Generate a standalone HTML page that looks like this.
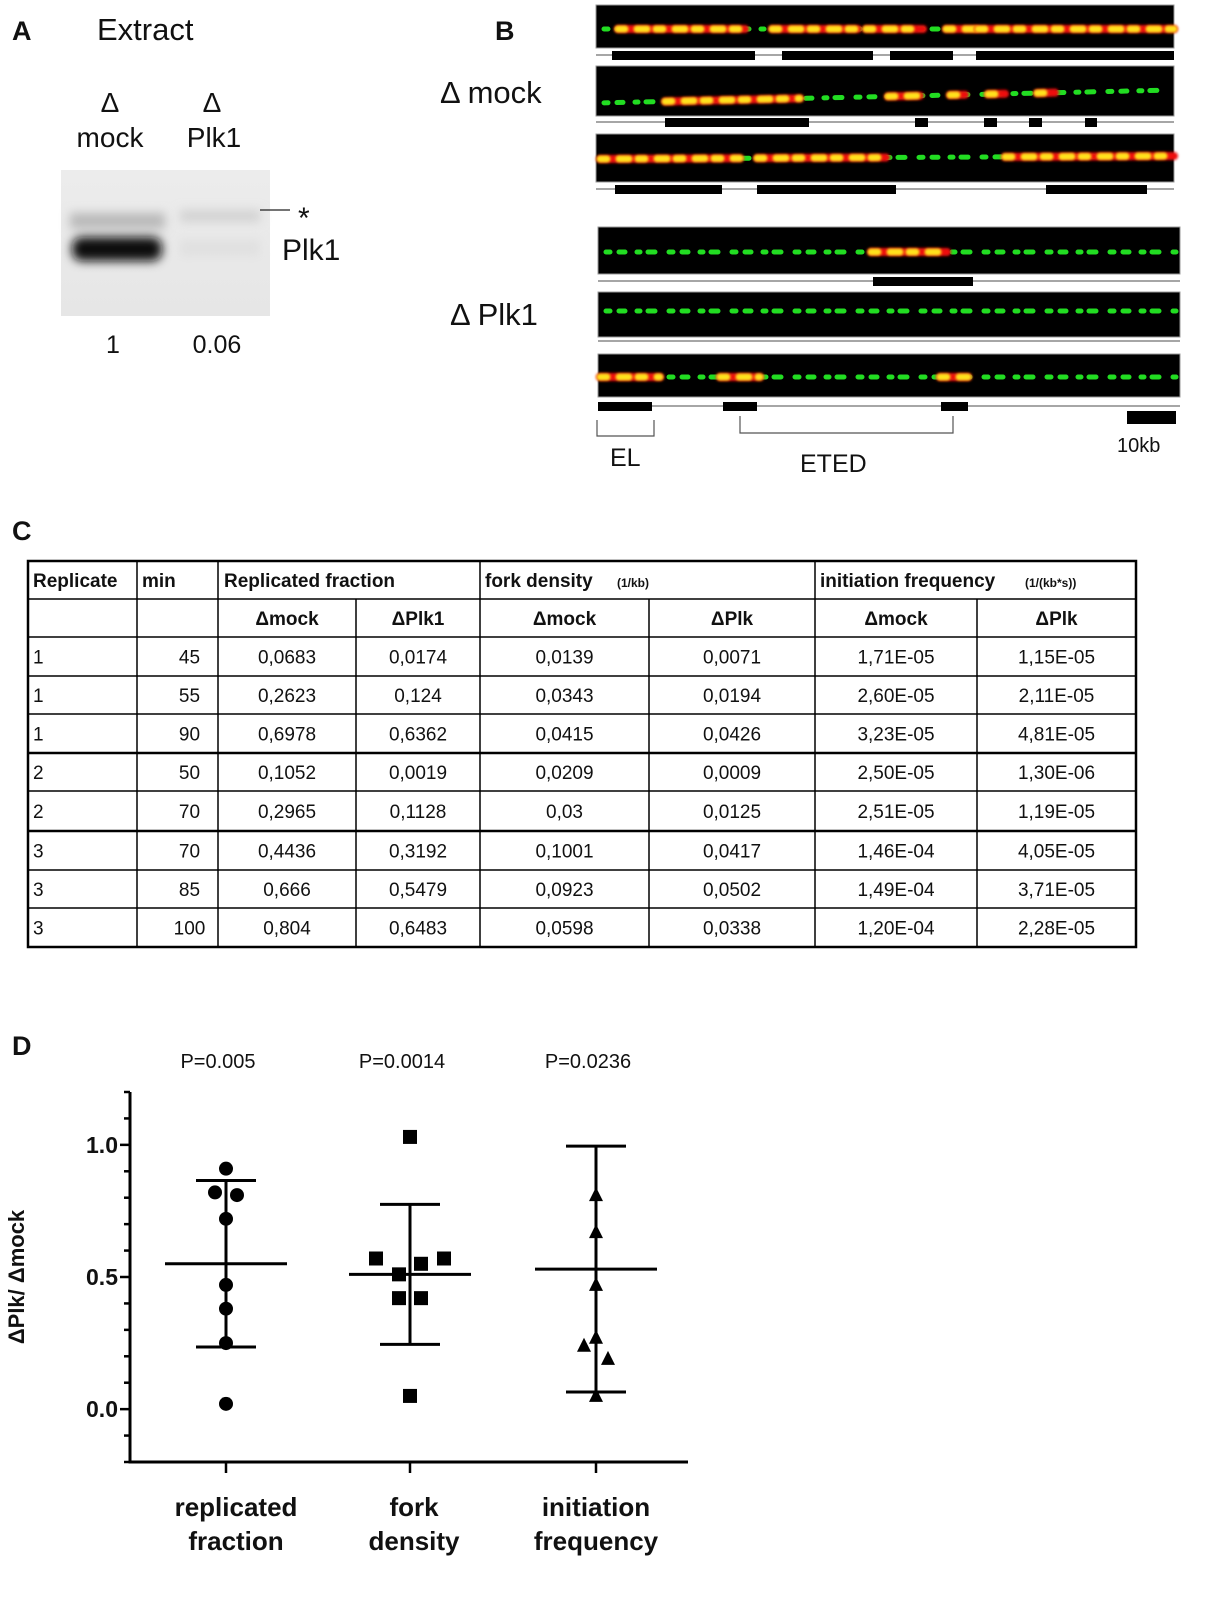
<!DOCTYPE html>
<html><head><meta charset="utf-8"><style>
html,body{margin:0;padding:0;background:#fff}
svg{display:block}
text{font-family:"Liberation Sans",sans-serif;fill:#111}
</style></head><body>
<svg id="fig" width="1210" height="1601" viewBox="0 0 1210 1601" xmlns="http://www.w3.org/2000/svg">
<defs>
<filter id="blur1" filterUnits="userSpaceOnUse" x="0" y="0" width="1210" height="1601"><feGaussianBlur stdDeviation="1.4"/></filter>
<filter id="blur5" filterUnits="userSpaceOnUse" x="0" y="0" width="1210" height="1601"><feGaussianBlur stdDeviation="5"/></filter>
<linearGradient id="blot" x1="0" y1="0" x2="0" y2="1"><stop offset="0" stop-color="#ececec"/><stop offset="1" stop-color="#e6e6e6"/></linearGradient>
</defs>

<!-- Panel A -->
<g>
<text x="12" y="40" font-size="27" font-weight="bold">A</text>
<text x="97" y="40" font-size="31">Extract</text>
<text x="110" y="112" font-size="28" text-anchor="middle">Δ</text>
<text x="110" y="147" font-size="28" text-anchor="middle">mock</text>
<text x="212" y="112" font-size="28" text-anchor="middle">Δ</text>
<text x="214" y="147" font-size="28" text-anchor="middle">Plk1</text>
<rect x="61" y="170" width="209" height="146" fill="url(#blot)"/>
<rect x="70" y="213" width="95" height="16" fill="#b9b9b9" filter="url(#blur5)"/>
<rect x="180" y="210" width="80" height="12" fill="#d2d2d2" filter="url(#blur5)"/>
<rect x="72" y="237" width="90" height="24" rx="10" fill="#0c0c0c" filter="url(#blur5)"/>
<rect x="180" y="240" width="80" height="16" fill="#e0e0e0" filter="url(#blur5)"/>
<line x1="260" y1="210" x2="290" y2="210" stroke="#222" stroke-width="1.2"/>
<text x="298" y="228" font-size="30">*</text>
<text x="282" y="260" font-size="30">Plk1</text>
<text x="113" y="353" font-size="25" text-anchor="middle">1</text>
<text x="217" y="353" font-size="25" text-anchor="middle">0.06</text>
</g>

<!-- Panel B -->
<g id="panelB">
<text x="495" y="40" font-size="27" font-weight="bold">B</text>
<text x="440" y="103" font-size="31">Δ mock</text>
<text x="450" y="325" font-size="31">Δ Plk1</text>
<g id="fibers"></g>
<rect x="1127" y="411" width="49" height="13" fill="#000"/>
<text x="1117" y="452" font-size="20">10kb</text>
<path d="M597 420 V436 H654 V420" fill="none" stroke="#555" stroke-width="1.2"/>
<text x="610" y="466" font-size="25">EL</text>
<path d="M740 416 V433 H953 V416" fill="none" stroke="#555" stroke-width="1.2"/>
<text x="800" y="472" font-size="25">ETED</text>
</g>

<!-- Panel C -->
<g id="panelC">
<text x="12" y="540" font-size="27" font-weight="bold">C</text>
<g id="table"></g>
</g>

<!-- Panel D -->
<g id="panelD">
<text x="12" y="1055" font-size="27" font-weight="bold">D</text>
<g id="chart"></g>
</g>
</svg>
<script>
const NS="http://www.w3.org/2000/svg";
function mk(tag,attrs,parent,txt){const e=document.createElementNS(NS,tag);for(const k in attrs)e.setAttribute(k,attrs[k]);if(txt!==undefined)e.textContent=txt;parent.appendChild(e);return e;}

/* ---------- Panel B fibers ---------- */
const fibG=document.getElementById('fibers');
const fibers=[
 {box:[596,5,578,43],yl:29,yr:29,red:[[618,745],[772,858],[866,923],[946,975],[978,1174]],bars:[[612,755],[782,873],[890,953],[976,1174]],ty:55,bh:9},
 {box:[596,66,578,50],yl:103,yr:90,red:[[665,800],[888,920],[950,965],[988,1005],[1037,1055]],bars:[[665,809],[915,928],[984,997],[1029,1042],[1085,1097]],ty:122,bh:9},
 {box:[596,134,578,48],yl:159,yr:156,red:[[600,740],[757,886],[1005,1174]],bars:[[615,722],[757,896],[1046,1147]],ty:189,bh:9},
 {box:[598,227,582,47],yl:252,yr:252,red:[[871,947]],bars:[[873,973]],ty:281,bh:9},
 {box:[598,292,582,45],yl:311,yr:311,red:[],bars:[],ty:341,bh:0},
 {box:[598,354,582,43],yl:377,yr:377,red:[[600,660],[720,760],[940,968]],bars:[[598,652],[723,757],[941,968]],ty:406,bh:9}
];
fibers.forEach((f,i)=>{
  const g=mk('g',{},fibG);
  
  
  const [x,y,w,h]=f.box;
  mk('rect',{x:x,y:y,width:w,height:h,fill:'#000',stroke:'#999','stroke-width':1},g);
  const yAt=xx=>f.yl+(f.yr-f.yl)*(xx-x)/w;
  mk('line',{x1:x+8,y1:yAt(x+8),x2:x+w-4,y2:yAt(x+w-4),stroke:'#22dd22','stroke-width':5,'stroke-dasharray':'4 9 6 12 3 8 7 14','stroke-linecap':'round'},g);
  f.red.forEach(s=>{
    mk('line',{x1:s[0],y1:yAt(s[0]),x2:s[1],y2:yAt(s[1]),stroke:'#ee1010','stroke-width':8,'stroke-linecap':'round',filter:'url(#blur1)'},g);
    mk('line',{x1:s[0],y1:yAt(s[0]),x2:s[1],y2:yAt(s[1]),stroke:'#ffe21a','stroke-width':7,'stroke-dasharray':'7 12 10 9','stroke-linecap':'round',filter:'url(#blur1)'},g);
  });
  mk('line',{x1:x,y1:f.ty,x2:x+w,y2:f.ty,stroke:'#888','stroke-width':1.5},g);
  f.bars.forEach(b=>mk('rect',{x:b[0],y:f.ty-4,width:b[1]-b[0],height:f.bh,fill:'#000'},g));
});

/* ---------- Panel C table ---------- */
const tG=document.getElementById('table');
const colX=[28,137,218,356,480,649,815,977,1136];
const rowY=[561,599,637,676,714,753,791,831,870,908,947];
const tableRows=[
 ['1','45','0,0683','0,0174','0,0139','0,0071','1,71E-05','1,15E-05'],
 ['1','55','0,2623','0,124','0,0343','0,0194','2,60E-05','2,11E-05'],
 ['1','90','0,6978','0,6362','0,0415','0,0426','3,23E-05','4,81E-05'],
 ['2','50','0,1052','0,0019','0,0209','0,0009','2,50E-05','1,30E-06'],
 ['2','70','0,2965','0,1128','0,03','0,0125','2,51E-05','1,19E-05'],
 ['3','70','0,4436','0,3192','0,1001','0,0417','1,46E-04','4,05E-05'],
 ['3','85','0,666','0,5479','0,0923','0,0502','1,49E-04','3,71E-05'],
 ['3','100','0,804','0,6483','0,0598','0,0338','1,20E-04','2,28E-05']
];
mk('rect',{x:28,y:561,width:1108,height:386,fill:'none',stroke:'#000','stroke-width':2.5},tG);
rowY.slice(1,-1).forEach(y=>{
  const thick=(y===753||y===831);
  mk('line',{x1:28,y1:y,x2:1136,y2:y,stroke:'#000','stroke-width':thick?2.5:1.5},tG);
});
colX.slice(1,-1).forEach(x=>{
  const top=(x===356||x===649||x===977)?599:561;
  mk('line',{x1:x,y1:top,x2:x,y2:947,stroke:'#000','stroke-width':1.5},tG);
});
const hdr=[[33,'Replicate'],[142,'min'],[224,'Replicated fraction'],[485,'fork density'],[820,'initiation frequency']];
hdr.forEach(h=>{const t=mk('text',{x:h[0],y:587,'font-size':19,'font-weight':'bold'},tG,h[1]);});
mk('text',{x:617,y:587,'font-size':12,'font-weight':'bold'},tG,'(1/kb)');
mk('text',{x:1025,y:587,'font-size':12,'font-weight':'bold'},tG,'(1/(kb*s))');
const sub=['Δmock','ΔPlk1','Δmock','ΔPlk','Δmock','ΔPlk'];
sub.forEach((s,i)=>{const cx=(colX[i+2]+colX[i+3])/2;const t=mk('text',{x:cx,y:625,'font-size':19,'font-weight':'bold','text-anchor':'middle'},tG,s);});
tableRows.forEach((r,ri)=>{
  const y=(rowY[ri+2]+rowY[ri+3])/2+7;
  r.forEach((v,ci)=>{
    const a=ci===0?{x:33,y:y,'font-size':19}:{x:(colX[ci]+colX[ci+1])/2+(ci===1?12:0),y:y,'font-size':19,'text-anchor':'middle'};
    const t=mk('text',a,tG,v);
    
    
  });
});

/* ---------- Panel D chart ---------- */
const categories=['replicated fraction','fork density','initiation frequency'];
const pValues=['P=0.005','P=0.0014','P=0.0236'];
const repFraction=[0.91,0.82,0.81,0.72,0.47,0.38,0.25,0.02];
const forkDensity=[1.03,0.57,0.57,0.55,0.51,0.42,0.42,0.05];
const initFreq=[0.81,0.67,0.47,0.27,0.24,0.19,0.05];
const means=[0.55,0.51,0.53];
const sds=[0.315,0.265,0.465];
const yTicks=[0.0,0.5,1.0];
const yTickLabels=['0.0','0.5','1.0'];
const jitter=[[0,-11,11,0,0,0,0,0],[0,-34,34,11,-11,-11,11,0],[0,0,0,0,-12,12,0]];
const series=[repFraction,forkDensity,initFreq];
const markers=['circle','square','triangle'];

const cG=document.getElementById('chart');
const yMin=-0.2,yMax=1.2,pxTop=1092,pxBot=1462;
const yS=v=>pxBot-(v-yMin)/(yMax-yMin)*(pxBot-pxTop);
const xLeft=130,xRight=688,catX=[226,410,596];
const xS=i=>catX[i];

const axY=mk('line',{x1:xLeft,y1:pxTop,x2:xLeft,y2:pxBot+1.5,stroke:'#000','stroke-width':3},cG);


const axX=mk('line',{x1:xLeft-1.5,y1:pxBot,x2:xRight,y2:pxBot,stroke:'#000','stroke-width':3},cG);


for(let k=-2;k<=12;k++){
  const v=k/10,y=yS(v),major=(k%5===0);
  mk('line',{x1:xLeft-(major?10:6),y1:y,x2:xLeft,y2:y,stroke:'#000','stroke-width':2.5},cG);
}
yTicks.forEach((v,i)=>{
  const t=mk('text',{x:xLeft-12,y:yS(v)+8,'font-size':23,'font-weight':'bold','text-anchor':'end'},cG,yTickLabels[i]);
  
  
});
const yl=mk('text',{x:0,y:0,'font-size':22,'font-weight':'bold','text-anchor':'middle',transform:'translate(24,1277) rotate(-90)'},cG,'ΔPlk/ Δmock');



categories.forEach((c,i)=>{
  const x=xS(i);
  mk('line',{x1:x,y1:pxBot,x2:x,y2:pxBot+11,stroke:'#000','stroke-width':2.5},cG);
  const words=c.split(' ');
  words.forEach((w,j)=>{
    const t=mk('text',{x:x+[10,4,0][i],y:1516+j*34,'font-size':26,'font-weight':'bold','text-anchor':'middle'},cG,w);
    
    
  });
  const pt=mk('text',{x:x-8,y:1068,'font-size':20,'text-anchor':'middle'},cG,pValues[i]);
  
  
  const eg=mk('g',{},cG);
  
  
  const hi=yS(means[i]+sds[i]),lo=yS(means[i]-sds[i]),m=yS(means[i]);
  mk('line',{x1:x,y1:hi,x2:x,y2:lo,stroke:'#000','stroke-width':3},eg);
  mk('line',{x1:x-30,y1:hi,x2:x+30,y2:hi,stroke:'#000','stroke-width':3},eg);
  mk('line',{x1:x-30,y1:lo,x2:x+30,y2:lo,stroke:'#000','stroke-width':3},eg);
  mk('line',{x1:x-61,y1:m,x2:x+61,y2:m,stroke:'#000','stroke-width':3},eg);
  series[i].forEach((v,j)=>{
    const px=x+jitter[i][j],py=yS(v);
    let e;
    if(markers[i]==='circle') e=mk('circle',{cx:px,cy:py,r:7,fill:'#000'},cG);
    else if(markers[i]==='square') e=mk('rect',{x:px-7,y:py-7,width:14,height:14,fill:'#000'},cG);
    else e=mk('polygon',{points:`${px},${py-8} ${px-7},${py+6} ${px+7},${py+6}`,fill:'#000'},cG);
    
    
  });
});
</script>
</body></html>
